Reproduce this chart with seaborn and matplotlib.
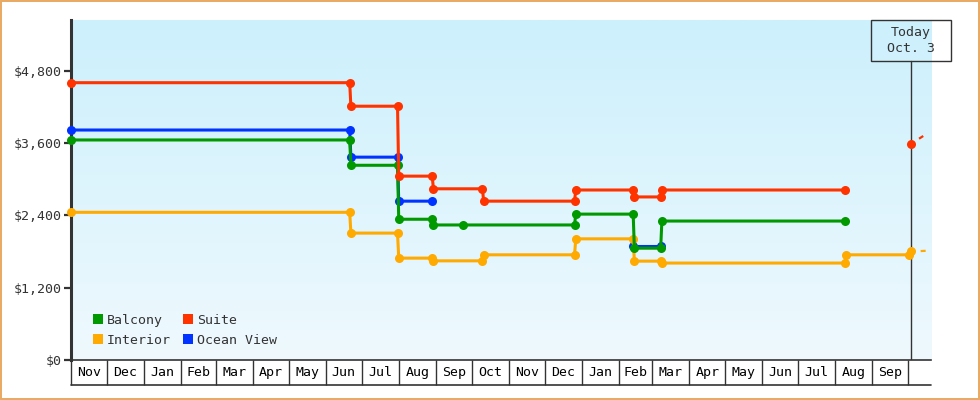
import numpy as np
import pandas as pd
import matplotlib
matplotlib.use("Agg")
import matplotlib.pyplot as plt
import matplotlib.dates as mdates
from matplotlib.patches import Patch, Rectangle
from matplotlib.ticker import FixedLocator, FuncFormatter, NullFormatter
import seaborn as sns

# ---- price history per cabin type (date of observation, fare in USD) ----
suite_dates = ["2015-11-01", "2016-06-21", "2016-06-22", "2016-07-31", "2016-08-01",
               "2016-08-29", "2016-08-30", "2016-10-10", "2016-10-11", "2016-12-26",
               "2016-12-27", "2017-02-13", "2017-02-14", "2017-03-08", "2017-03-09",
               "2017-08-09"]
suite_prices = [4600, 4600, 4210, 4210, 3050, 3050, 2840, 2840, 2635, 2635,
                2820, 2820, 2705, 2705, 2820, 2820]

ocean_dates = ["2015-11-01", "2016-06-21", "2016-06-22", "2016-07-31", "2016-08-01",
               "2016-08-29"]
ocean_prices = [3815, 3815, 3365, 3365, 2635, 2635]
ocean_dates_b = ["2017-02-13", "2017-03-08"]
ocean_prices_b = [1895, 1895]

balcony_dates = ["2015-11-01", "2016-06-21", "2016-06-22", "2016-07-31", "2016-08-01",
                 "2016-08-29", "2016-08-30", "2016-09-24", "2016-12-26", "2016-12-27",
                 "2017-02-13", "2017-02-14", "2017-03-08", "2017-03-09", "2017-08-09"]
balcony_prices = [3650, 3650, 3230, 3230, 2335, 2335, 2240, 2240, 2240, 2420,
                  2420, 1855, 1855, 2305, 2305]

interior_dates = ["2015-11-01", "2016-06-21", "2016-06-22", "2016-07-31", "2016-08-01",
                  "2016-08-29", "2016-08-30", "2016-10-10", "2016-10-11", "2016-12-26",
                  "2016-12-27", "2017-02-13", "2017-02-14", "2017-03-08", "2017-03-09",
                  "2017-08-09", "2017-08-10", "2017-10-02", "2017-10-03"]
interior_prices = [2450, 2450, 2105, 2105, 1690, 1690, 1645, 1645, 1745, 1745,
                   2010, 2010, 1640, 1640, 1608, 1608, 1745, 1745, 1800]

# current fare quoted today for the suite
suite_today_date = ["2017-10-03"]
suite_today_price = [3580]

# projected trend beyond today
trend_dates = ["2017-10-03", "2017-10-20"]
trend_suite = [3580, 3800]
trend_interior = [1800, 1815]

today = "2017-10-03"
today_label = "Today\nOct. 3"

month_labels = ["Nov", "Dec", "Jan", "Feb", "Mar", "Apr", "May", "Jun", "Jul", "Aug",
                "Sep", "Oct", "Nov", "Dec", "Jan", "Feb", "Mar", "Apr", "May", "Jun",
                "Jul", "Aug", "Sep"]
y_ticks = [0, 1200, 2400, 3600, 4800]

room_order = ["Ocean View", "Interior", "Balcony", "Suite"]
palette = {"Balcony": "#009900", "Suite": "#ff3300",
           "Interior": "#ffaa00", "Ocean View": "#0033ff"}


def frame(room, seg, dates, prices):
    return pd.DataFrame({"date": pd.to_datetime(dates), "price": prices,
                         "room": room, "seg": seg})


history = pd.concat([
    frame("Ocean View", 0, ocean_dates, ocean_prices),
    frame("Ocean View", 1, ocean_dates_b, ocean_prices_b),
    frame("Interior", 2, interior_dates, interior_prices),
    frame("Balcony", 3, balcony_dates, balcony_prices),
    frame("Suite", 4, suite_dates, suite_prices),
    frame("Suite", 5, suite_today_date, suite_today_price),
], ignore_index=True)

trend = pd.concat([
    frame("Interior", 0, trend_dates, trend_interior),
    frame("Suite", 1, trend_dates, trend_suite),
], ignore_index=True)

sns.set_style("white")
plt.rcParams["font.family"] = ["DejaVu Sans Mono", "DejaVu Sans"]
plt.rcParams["lines.scale_dashes"] = False

ink = "#333333"
fig = plt.figure(figsize=(9.8, 4.0), dpi=100)
ax = fig.add_axes([71 / 980, 40 / 400, 860 / 980, 340 / 400])

x0 = pd.Timestamp("2015-11-01")
x1 = pd.Timestamp("2017-10-20")
ax.set_xlim(x0, x1)
ax.set_ylim(0, 5640)

# vertical gradient background
grad = np.linspace(0, 1, 256).reshape(-1, 1)
top_c = np.array([204, 240, 252]) / 255
bot_c = np.array([239, 249, 254]) / 255
img = top_c[None, None, :] * (1 - grad[..., None]) + bot_c[None, None, :] * grad[..., None]
ax.imshow(img, extent=[0, 1, 0, 1], transform=ax.transAxes, aspect="auto", zorder=0)

sns.lineplot(data=history, x="date", y="price", hue="room", units="seg",
             estimator=None, sort=False, hue_order=room_order, palette=palette,
             marker="o", markersize=6.5, markeredgewidth=0, linewidth=2.2,
             legend=False, ax=ax, zorder=3, clip_on=False)

sns.lineplot(data=trend, x="date", y="price", hue="room", units="seg",
             estimator=None, sort=False, hue_order=room_order, palette=palette,
             linewidth=1.6, linestyle=(3.6, (3.6, 7.2)), legend=False, ax=ax, zorder=3)

# today marker line and label box
today_num = mdates.date2num(pd.Timestamp(today))
xl = ax.get_xlim()
today_frac = (today_num - xl[0]) / (xl[1] - xl[0])
box_h = 41 / 340
box_w = 80 / 860
ax.axvline(pd.Timestamp(today), ymin=0, ymax=1 - box_h, color=ink, lw=1.0, zorder=2)
ax.add_patch(Rectangle((today_frac - box_w / 2, 1 - box_h), box_w, box_h,
                       transform=ax.transAxes, facecolor="none", edgecolor=ink,
                       lw=1.0, clip_on=False, zorder=5))
ax.text(today_frac, 1 - box_h / 2, today_label, transform=ax.transAxes,
        ha="center", va="center", fontsize=9.5, color=ink, linespacing=1.35, zorder=6)

# spines
for side in ("top", "right"):
    ax.spines[side].set_visible(False)
ax.spines["left"].set_color(ink)
ax.spines["left"].set_linewidth(2.2)
ax.spines["bottom"].set_color(ink)
ax.spines["bottom"].set_linewidth(1.2)

# y axis
ax.set_yticks(y_ticks)
ax.yaxis.set_major_formatter(FuncFormatter(lambda v, p: f"${v:,.0f}"))
ax.tick_params(axis="y", direction="out", length=5, width=1.6, color=ink,
               labelsize=9.5, labelcolor=ink, pad=2, left=True)

# x axis: month cells
month_starts = pd.date_range("2015-11-01", periods=len(month_labels) + 1, freq="MS")
centers = [mdates.date2num(a) + (mdates.date2num(b) - mdates.date2num(a)) / 2
           for a, b in zip(month_starts[:-1], month_starts[1:])]
ax.xaxis.set_major_locator(FixedLocator(mdates.date2num(month_starts)))
ax.xaxis.set_major_formatter(NullFormatter())
ax.xaxis.set_minor_locator(FixedLocator(centers))
ax.xaxis.set_minor_formatter(FixedFormatter := matplotlib.ticker.FixedFormatter(month_labels))
ax.tick_params(axis="x", which="major", direction="out", length=18, width=1.0,
               color=ink, bottom=True)
ax.tick_params(axis="x", which="minor", length=0, labelsize=9.5,
               labelcolor="black", pad=4.5, bottom=True)
cell_bottom = -25 / 340
ax.plot([0, 1], [cell_bottom, cell_bottom], transform=ax.transAxes, color=ink,
        lw=1.2, clip_on=False)
ax.set_xlabel("")
ax.set_ylabel("")

# legend
legend_order = ["Balcony", "Interior", "Suite", "Ocean View"]
handles = [Patch(facecolor=palette[r], edgecolor="none", label=r) for r in legend_order]
ax.legend(handles=handles, ncol=2, loc="lower left",
          bbox_to_anchor=(22 / 860, 13 / 340), frameon=False, borderaxespad=0,
          borderpad=0, handlelength=0.78, handleheight=0.78, handletextpad=0.25,
          columnspacing=0.95, labelspacing=0.55, prop={"size": 9.5},
          labelcolor=ink)

# outer frame
fig.patches.append(Rectangle((0.0008, 0.002), 0.9984, 0.996, transform=fig.transFigure,
                             facecolor="none", edgecolor="#e8a860", lw=1.4))

fig.savefig("out.png", dpi=100)
